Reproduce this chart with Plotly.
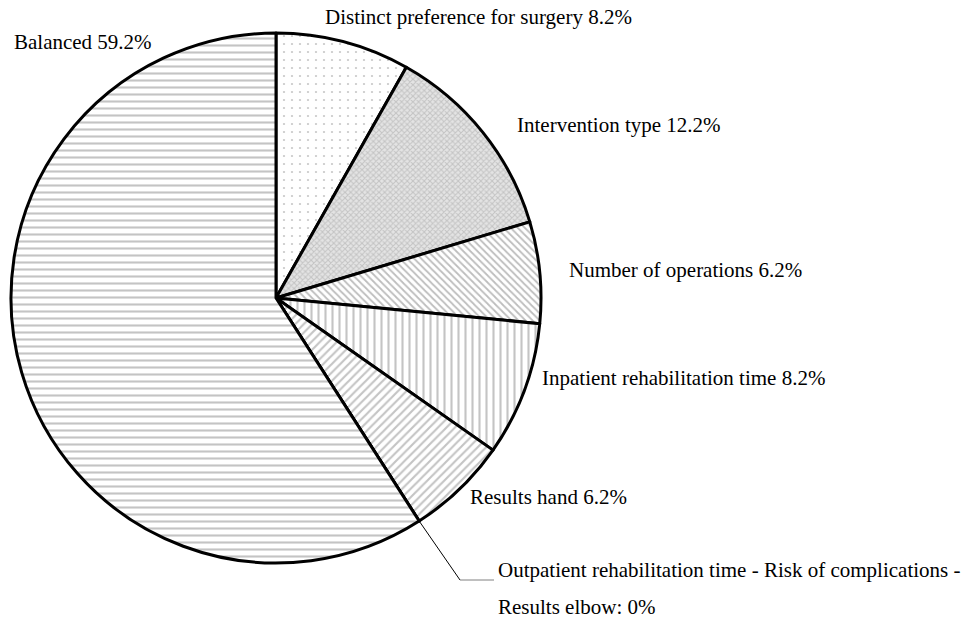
"""Pie chart of decision factors, with hatch patterns like the printed original."""

import math

import plotly.graph_objects as go

# Slices clockwise from 12 o'clock
labels = [
    "Distinct preference for surgery",
    "Intervention type",
    "Number of operations",
    "Inpatient rehabilitation time",
    "Results hand",
    "Outpatient rehabilitation time - Risk of complications - Results elbow",
    "Balanced",
]
values = [8.2, 12.2, 6.2, 8.2, 6.2, 0.0, 59.2]
shapes = [".", "x", "\\", "|", "/", "", "-"]
pattern_sizes = [8, 4, 5, 7, 6, 6, 7]

W, H = 967, 620
CX, CY, R = 276, 298, 265  # pie centre and radius in pixels

FONT = dict(family="Liberation Serif, Times New Roman, serif", size=21, color="#000000")

fig = go.Figure(
    go.Pie(
        labels=labels,
        values=values,
        sort=False,
        direction="clockwise",
        rotation=0,
        textinfo="none",
        hoverinfo="label+value",
        showlegend=False,
        domain=dict(x=[(CX - R) / W, (CX + R) / W], y=[(H - CY - R) / H, (H - CY + R) / H]),
        marker=dict(
            colors=["#ffffff"] * len(values),
            line=dict(color="#000000", width=3),
            pattern=dict(
                shape=shapes,
                size=pattern_sizes,
                fgcolor=["#c8c8c8", "#c4c4c4", "#bdbdbd", "#c4c4c4", "#c4c4c4", "#ffffff", "#c4c4c4"],
                bgcolor=["#ffffff", "#e4e4e4", "#ffffff", "#ffffff", "#ffffff", "#ffffff", "#ffffff"],
                solidity=[0.06, 0.45, 0.35, 0.3, 0.35, 0.3, 0.3],
            ),
        ),
    )
)

# label placement (pixel position of left edge / vertical centre), as in the original
label_pos = [(323, 17), (515, 125), (567, 270), (540, 378), (468, 497), (496, 570), (12, 42)]

annotations = []
for lab, val, (px, py) in zip(labels, values, label_pos):
    if val == 0:
        # the long label wraps onto a second line
        head, tail = lab.rsplit(" - ", 1)
        lines = [(head + " -", py), (f"{tail}: {val:g}%", py + 37)]
    else:
        lines = [(f"{lab} {val:g}%", py)]
    for txt, ly in lines:
        annotations.append(
            dict(
                x=px / W, y=1 - ly / H, xref="paper", yref="paper",
                xanchor="left", yanchor="middle",
                text=txt, showarrow=False, align="left", font=FONT,
            )
        )

# leader line for the zero slice, starting where it sits on the rim
zero_idx = values.index(0.0)
ang = math.radians(sum(values[:zero_idx]) / sum(values) * 360)
sx, sy = CX + R * math.sin(ang), CY - R * math.cos(ang)
fig.add_shape(
    type="line", xref="paper", yref="paper",
    x0=sx / W, y0=1 - sy / H, x1=460 / W, y1=1 - 580 / H,
    line=dict(color="#000000", width=1),
)
fig.add_shape(
    type="line", xref="paper", yref="paper",
    x0=460 / W, y0=1 - 580 / H, x1=494 / W, y1=1 - 580 / H,
    line=dict(color="#808080", width=1),
)

fig.update_layout(
    width=W,
    height=H,
    margin=dict(l=0, r=0, t=0, b=0),
    paper_bgcolor="#ffffff",
    plot_bgcolor="#ffffff",
    annotations=annotations,
)

# drop the browser's default page margin so the chart sits at 0,0
fig.write_html(
    "out.html",
    config={"displayModeBar": False},
    post_script="document.body.style.margin = '0';",
)
